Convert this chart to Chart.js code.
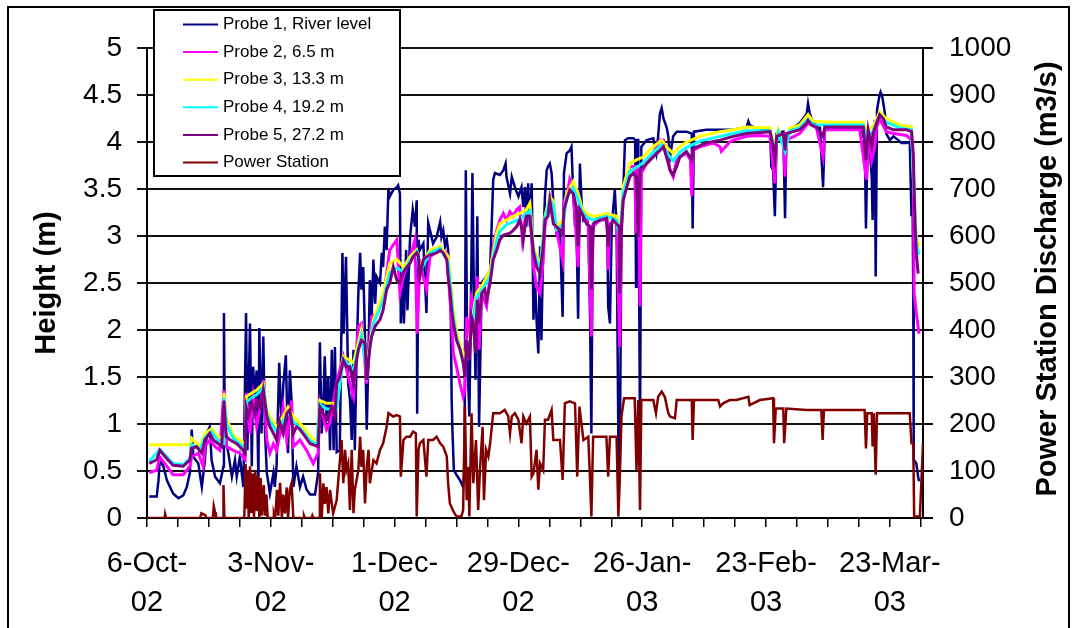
<!DOCTYPE html>
<html>
<head>
<meta charset="utf-8">
<script src="https://cdn.jsdelivr.net/npm/chart.js@4.4.1/dist/chart.umd.min.js"></script>
<style>
  html, body { margin: 0; padding: 0; background: #fff; }
  #wrap { width: 1076px; height: 628px; }
</style>
</head>
<body>
<div id="wrap"><canvas id="myChart" width="1076" height="628"></canvas></div>
<script>
// days counted from 6-Oct-02
const xLabelDays = [0, 28, 56, 84, 112, 140, 168];
const xLabels = [["6-Oct-", "02"], ["3-Nov-", "02"], ["1-Dec-", "02"], ["29-Dec-", "02"],
                 ["26-Jan-", "03"], ["23-Feb-", "03"], ["23-Mar-", "03"]];

const seriesNames = ["Probe 1, River level", "Probe 2, 6.5 m", "Probe 3, 13.3 m",
                     "Probe 4, 19.2 m", "Probe 5, 27.2 m", "Power Station"];

// Probe 1, river level (m)
const p1Days = [0.5,2.2,2.6,2.9,3.7,4.5,5.9,7.1,8.2,9.0,9.7,10.1,10.5,11.6,12.4,13.1,13.5,14.2,14.6,15.4,
  16.5,17.3,17.4,17.6,18.4,19.2,19.9,20.3,21.0,21.8,22.4,22.7,23.3,23.7,24.0,24.4,24.8,25.2,25.4,25.9,
  26.3,26.7,27.1,27.8,28.6,28.9,29.3,29.9,30.5,30.8,31.4,31.9,32.3,32.7,33.1,33.8,34.6,35.3,36.1,36.9,
  38.0,38.7,39.1,39.5,39.9,40.2,40.6,41.0,41.4,41.8,42.2,42.5,42.9,43.6,44.2,44.5,45.0,45.5,45.9,46.3,
  46.7,47.0,47.4,47.8,48.2,48.5,48.9,49.3,49.7,50.1,50.4,50.8,51.2,51.6,51.9,52.7,53.1,53.4,53.8,54.2,
  54.6,54.9,55.7,56.5,56.8,57.2,57.4,57.8,58.1,58.6,58.9,59.5,60.1,60.6,61.0,61.1,61.4,61.7,62.5,63.2,
  63.6,64.0,64.7,65.5,66.3,66.6,67.0,67.4,67.8,68.1,68.4,68.7,68.9,69.1,69.4,70.0,70.8,71.5,71.8,72.1,
  72.4,72.9,73.2,73.6,74.0,74.3,74.7,75.1,75.7,76.1,76.8,77.6,78.3,78.7,79.8,80.6,81.1,81.3,82.1,82.5,
  83.2,84.0,84.7,85.1,85.5,85.8,86.2,86.6,87.0,87.2,87.4,87.7,88.1,88.5,88.9,89.2,89.6,90.0,90.4,90.7,
  91.1,91.5,91.9,92.6,93.4,94.0,94.3,94.9,95.6,96.0,96.4,96.8,97.1,97.5,97.9,98.3,98.7,99.4,99.8,100.2,
  100.5,100.8,101.3,102.4,103.6,104.1,104.3,104.7,105.1,105.8,106.2,106.6,106.9,107.3,107.7,108.1,108.8,110.0,110.4,110.6,
  110.7,111.1,111.5,111.8,113.0,114.5,115.2,115.6,116.0,116.4,116.8,117.5,117.9,118.3,119.0,119.8,122.0,123.2,123.4,123.7,
  126.5,129.6,132.6,135.6,136.0,136.3,137.1,140.9,141.2,141.6,142.0,142.4,143.9,144.3,144.6,145.4,147.6,149.2,149.5,149.9,
  150.7,152.2,152.9,153.3,155.9,161.2,162.0,162.3,162.6,162.9,163.1,163.9,164.1,164.4,164.6,164.8,165.1,165.6,165.9,166.3,
  166.9,167.2,168.0,168.8,169.9,170.6,171.8,172.5,172.9,173.1,173.3,173.4,174.0,174.4,174.6];
const p1Height = [0.23,0.23,0.40,0.62,0.55,0.40,0.26,0.21,0.24,0.33,0.48,0.94,0.65,0.58,0.33,0.62,0.90,0.97,0.62,0.44,
  0.37,0.55,2.18,0.90,0.69,0.44,0.62,0.44,0.65,0.33,2.18,0.72,2.07,0.55,1.61,1.25,1.57,0.37,2.02,0.90,
  1.93,0.90,0.48,0.26,0.48,0.33,0.55,1.65,0.90,1.40,1.73,0.69,1.57,1.25,0.33,0.55,0.33,0.44,0.30,0.25,
  0.25,0.48,1.87,0.90,1.25,1.72,1.08,1.50,0.72,1.79,0.72,1.82,0.70,0.72,2.82,1.96,2.78,1.43,1.26,0.83,
  1.79,0.72,1.72,2.39,2.82,2.43,2.67,1.93,0.94,1.79,2.53,2.14,2.75,2.28,2.57,2.50,2.82,2.67,3.10,2.85,
  3.51,3.42,3.49,3.52,3.54,3.45,2.07,2.57,2.07,2.85,2.21,2.99,3.28,3.10,3.38,1.11,2.96,2.85,2.92,2.18,
  3.14,3.06,2.92,2.99,3.15,2.99,3.06,2.89,2.96,2.85,2.50,2.18,1.26,0.90,0.51,0.46,0.40,0.33,0.55,3.70,
  1.79,1.08,2.07,3.67,2.14,1.47,3.21,0.97,2.50,2.53,2.57,2.64,3.60,3.67,3.65,3.70,3.77,3.63,3.45,3.63,
  3.52,3.42,3.52,3.31,3.52,3.10,3.56,3.10,3.56,2.89,2.11,2.60,2.11,1.75,2.89,1.89,2.89,3.42,3.70,3.74,
  3.77,3.67,3.35,3.03,3.06,2.14,3.67,3.88,3.91,3.95,3.45,3.10,3.21,2.12,3.77,3.35,3.17,3.21,3.10,2.14,
  0.90,3.03,3.17,3.21,3.21,3.10,2.25,2.07,3.10,3.49,3.10,0.87,0.37,3.10,3.45,4.02,4.04,4.04,4.02,2.46,
  4.02,4.02,0.90,3.95,4.02,4.04,3.88,4.06,4.30,4.36,4.25,4.16,4.06,3.84,4.06,4.11,4.11,4.09,3.08,4.11,
  4.13,4.13,4.13,4.16,4.22,4.18,4.16,4.12,3.74,3.70,3.21,4.09,4.11,3.19,4.06,4.13,4.20,4.30,4.41,4.30,
  4.20,4.15,3.52,4.13,4.15,4.15,4.06,4.09,3.08,3.81,4.16,3.63,3.17,4.09,4.23,2.57,4.34,4.48,4.53,4.48,
  4.30,4.09,4.02,4.06,4.02,3.99,3.99,4.00,3.21,3.60,2.39,0.62,0.58,0.44,0.39];

// Probe 2, 6.5 m (m)
const p2Days = [0.5,2.2,2.9,4.5,5.9,8.2,9.7,10.1,11.6,12.7,13.1,14.2,15.4,16.5,17.4,18.0,19.5,21.0,22.2,22.4,
  23.3,24.0,24.8,25.6,26.3,27.1,27.8,28.6,29.3,30.1,30.8,31.6,32.7,33.1,34.6,36.1,37.6,38.7,39.1,40.6,
  41.4,42.9,44.4,45.9,46.7,47.8,48.5,49.7,50.8,51.9,53.4,54.9,56.5,57.2,58.0,59.5,60.6,61.1,61.7,63.2,
  64.0,65.5,67.0,67.8,68.5,69.3,70.0,70.8,71.5,71.9,72.3,72.9,73.4,73.9,74.3,74.7,75.1,75.7,76.8,77.6,
  78.3,79.1,79.8,80.6,81.3,82.1,82.8,83.6,84.3,84.9,85.8,86.6,87.4,88.1,88.9,89.6,90.0,90.7,91.1,91.9,
  92.6,94.0,94.3,95.3,95.6,96.4,97.5,97.9,98.7,99.4,99.8,100.5,100.9,102.4,104.1,104.3,104.7,106.2,106.9,107.3,
  107.7,108.5,109.2,110.3,110.6,111.1,111.5,111.8,113.0,114.5,116.0,116.8,117.5,118.3,119.0,119.8,120.5,122.0,122.9,123.2,
  123.5,125.0,128.0,129.6,129.9,131.8,132.6,135.6,138.6,140.9,142.0,142.4,143.9,144.3,144.6,147.6,149.5,151.4,152.9,153.3,
  161.2,162.7,163.3,163.9,164.6,165.0,165.7,167.2,168.8,171.8,172.9,173.3,173.5,174.0,174.6];
const p2Height = [0.48,0.51,0.65,0.55,0.46,0.46,0.55,0.65,0.69,0.55,0.76,0.83,0.76,0.72,1.36,0.76,0.72,0.69,0.62,1.33,
  0.90,1.29,0.97,1.18,1.47,0.83,0.69,0.79,0.72,0.90,1.18,0.83,1.25,0.76,0.83,0.72,0.58,0.69,1.22,0.94,
  1.01,1.45,1.72,1.43,1.29,2.04,2.07,1.43,2.14,2.18,2.32,2.85,2.96,2.39,2.57,2.78,2.96,1.96,2.71,2.43,
  2.78,2.83,2.85,2.82,2.35,1.75,1.61,1.43,1.29,1.36,2.14,1.93,2.35,2.28,1.96,2.57,1.79,2.39,2.25,2.57,
  2.89,3.06,3.17,3.24,3.17,3.26,3.21,3.28,3.31,2.96,3.28,3.24,2.67,2.46,2.39,2.74,3.10,3.31,3.42,3.31,
  3.06,2.74,3.35,3.52,3.60,3.49,2.67,3.38,3.21,3.17,3.10,1.93,3.10,3.17,3.17,2.64,3.13,3.17,1.82,3.03,
  3.45,3.63,3.74,3.74,3.03,3.74,2.25,3.67,3.77,3.88,4.02,4.02,3.88,3.70,3.63,3.81,3.84,3.88,3.81,3.42,
  3.91,3.95,3.99,3.95,3.90,4.00,4.02,4.06,4.07,4.06,3.56,4.02,4.04,3.63,4.02,4.09,4.20,4.15,3.84,4.13,
  4.13,3.60,4.09,3.81,3.95,4.16,4.25,4.11,4.09,4.07,4.02,3.81,2.39,2.18,1.96];

// Probe 3, 13.3 m (m)
const p3Days = [0.5,9.9,10.1,12.0,13.1,14.6,16.1,17.3,17.4,18.0,19.5,21.0,22.2,22.4,23.7,24.8,26.3,27.1,27.8,29.3,
  30.8,31.9,33.1,35.3,36.9,38.4,39.1,40.6,42.9,44.4,46.7,48.5,49.7,51.2,53.4,54.9,56.5,58.0,59.5,61.0,
  61.7,64.0,66.3,68.1,69.3,70.0,71.1,71.9,73.0,74.5,76.1,77.6,78.3,79.1,79.8,81.3,82.8,84.3,85.8,86.6,
  87.4,88.9,90.0,91.1,91.9,92.6,94.1,94.9,96.4,97.5,98.3,99.4,100.9,102.4,103.9,106.2,106.9,107.7,109.2,110.7,
  112.2,114.5,116.4,117.5,119.0,120.5,122.0,125.0,129.6,132.6,135.6,140.9,142.0,142.8,144.3,145.4,147.6,149.5,150.7,155.2,
  162.0,162.7,164.2,165.7,167.2,170.3,172.9,173.7,174.0,174.6];
const p3Height = [0.78,0.78,0.85,0.76,0.90,0.95,0.87,0.83,1.33,1.06,0.88,0.83,0.78,1.29,1.33,1.36,1.43,1.15,1.08,0.97,
  1.08,1.18,1.08,0.97,0.87,0.81,1.25,1.22,1.22,1.72,1.65,2.00,1.61,2.11,2.39,2.71,2.75,2.67,2.78,2.85,
  2.67,2.85,2.89,2.78,2.21,2.00,1.79,1.72,1.93,2.39,2.50,2.64,2.82,3.03,3.13,3.17,3.21,3.24,3.28,3.35,
  2.89,2.67,3.21,3.42,3.37,3.10,3.17,3.45,3.58,3.45,3.31,3.24,3.21,3.22,3.24,3.21,3.03,3.52,3.77,3.81,
  3.84,3.95,4.02,3.95,3.88,3.95,4.00,4.06,4.11,4.13,4.16,4.15,3.95,4.13,3.95,4.15,4.18,4.29,4.22,4.21,
  4.21,4.13,4.16,4.32,4.25,4.18,4.16,3.28,2.99,2.89];

// Probe 4, 19.2 m (m)
const p4Days = [0.5,2.9,4.5,5.9,8.2,9.7,10.1,12.0,13.1,14.6,16.1,17.3,17.4,18.0,19.5,21.0,22.2,22.4,23.7,24.8,
  26.3,27.1,27.8,29.3,30.8,31.9,33.1,35.3,36.9,38.4,39.1,40.6,42.9,44.4,46.7,48.5,49.7,51.2,53.4,54.9,
  56.5,58.0,59.5,61.0,61.7,64.0,66.3,68.1,69.3,70.0,71.1,71.9,73.0,74.5,76.1,77.6,78.3,79.1,79.8,81.3,
  82.8,84.3,85.8,86.6,87.4,88.9,90.0,91.1,91.9,92.6,94.1,94.9,96.4,97.5,98.3,99.4,100.9,102.4,103.9,106.2,
  106.9,107.7,109.2,110.7,112.2,114.5,116.4,117.5,119.0,120.5,122.0,125.0,129.6,132.6,135.6,140.9,142.0,142.8,144.3,145.4,
  147.6,149.5,150.7,155.2,162.0,162.7,164.2,165.7,167.2,170.3,172.9,173.7,174.0,174.6];
const p4Height = [0.60,0.73,0.65,0.58,0.57,0.63,0.78,0.73,0.86,0.92,0.82,0.79,1.28,1.00,0.85,0.79,0.73,1.23,1.28,1.31,
  1.39,1.11,1.03,0.92,1.03,1.13,1.03,0.92,0.82,0.78,1.21,1.16,1.16,1.69,1.58,1.94,1.55,2.07,2.31,2.61,
  2.66,2.62,2.74,2.83,2.62,2.82,2.87,2.72,2.13,1.93,1.74,1.63,1.88,2.34,2.45,2.57,2.77,2.95,3.05,3.12,
  3.15,3.18,3.24,3.27,2.85,2.63,3.18,3.39,3.33,3.07,3.12,3.41,3.51,3.39,3.27,3.20,3.17,3.19,3.21,3.17,
  2.97,3.46,3.69,3.73,3.78,3.89,3.97,3.89,3.80,3.89,3.94,4.01,4.06,4.09,4.12,4.12,3.89,4.10,3.90,4.12,
  4.15,4.24,4.18,4.18,4.18,4.04,4.12,4.29,4.21,4.15,4.13,3.20,2.93,2.80];

// Probe 5, 27.2 m (m)
const p5Days = [0.5,2.2,2.9,4.5,5.9,8.2,9.7,10.1,11.2,12.4,13.1,14.2,15.0,16.1,16.9,17.4,17.9,18.8,20.3,21.4,
  22.2,22.4,22.9,23.7,24.4,24.8,25.6,26.3,27.1,27.8,28.6,29.3,29.9,30.8,31.6,32.3,33.1,33.8,34.6,35.7,
  36.9,38.7,39.1,39.9,40.6,41.8,42.5,42.9,43.6,44.4,45.1,45.9,46.7,47.0,47.8,48.5,49.3,49.7,50.4,50.8,
  51.6,52.7,53.4,54.2,54.9,55.7,56.5,57.2,57.6,58.3,59.5,60.2,61.0,61.4,61.7,62.5,63.2,64.0,65.5,66.3,
  67.0,67.8,68.1,68.5,68.9,69.3,70.0,70.8,71.5,71.9,72.3,72.9,73.4,73.8,74.3,74.7,75.1,75.7,76.4,76.8,
  77.6,78.3,79.1,79.8,80.6,82.1,82.8,83.6,84.3,84.9,85.1,85.8,86.6,87.4,88.1,88.9,89.6,90.0,90.7,91.1,
  91.9,92.6,93.4,94.0,94.3,94.9,95.6,96.4,97.1,97.5,97.9,98.7,99.4,100.2,100.5,100.9,102.4,103.9,104.3,104.7,
  105.4,106.8,106.9,107.3,107.7,108.5,109.2,110.0,110.7,111.1,111.5,113.0,114.5,116.0,116.8,117.5,118.3,119.0,119.8,120.5,
  122.0,123.2,123.5,126.5,129.6,132.6,135.6,140.9,141.6,142.0,142.4,143.9,144.3,144.6,147.6,149.2,149.5,150.3,151.4,152.9,
  153.3,162.0,162.6,163.1,163.9,164.2,165.0,165.7,166.5,167.2,168.8,171.8,172.9,173.3,173.7,174.0,174.4];
const p5Height = [0.58,0.62,0.72,0.63,0.56,0.55,0.62,0.74,0.76,0.69,0.83,0.90,0.83,0.79,0.76,1.25,0.87,0.83,0.79,0.74,
  0.69,1.18,1.08,1.22,1.11,1.25,1.18,1.36,1.08,0.97,0.90,0.83,1.04,0.90,1.11,1.15,0.90,0.97,0.94,0.87,
  0.79,0.76,1.18,1.11,1.04,1.18,1.08,1.43,1.50,1.68,1.61,1.61,1.43,1.57,1.79,1.89,1.86,1.47,1.82,1.93,
  2.04,2.11,2.21,2.43,2.50,2.67,2.53,2.50,2.57,2.64,2.71,2.78,2.82,2.78,2.57,2.75,2.78,2.80,2.82,2.85,
  2.82,2.75,2.57,2.43,2.21,2.07,1.89,1.79,1.65,1.50,1.89,1.68,2.14,2.07,1.75,2.32,2.07,2.39,2.43,2.32,
  2.50,2.75,2.85,2.96,3.01,3.03,3.06,3.10,3.17,3.06,2.96,3.21,3.21,2.83,2.67,2.60,2.89,3.17,3.21,3.38,
  3.13,3.10,3.06,3.03,3.28,3.38,3.49,3.45,3.31,2.89,3.28,3.21,3.13,3.10,2.43,3.13,3.17,3.19,2.89,3.10,
  3.17,3.10,2.39,3.10,3.38,3.52,3.63,3.67,3.63,2.99,3.70,3.77,3.84,3.91,3.95,3.84,3.70,3.65,3.74,3.84,
  3.90,3.81,3.93,3.99,4.02,4.06,4.09,4.11,3.95,3.81,4.06,4.09,3.91,4.09,4.13,4.20,4.23,4.18,4.16,4.06,
  4.16,4.16,3.81,4.13,3.95,4.09,4.20,4.29,4.25,4.16,4.13,4.13,4.11,3.88,3.10,2.81,2.60];

// Power Station discharge (m3/s), right axis
const psDays = [0.5,4.0,4.1,4.3,12.0,12.3,13.2,13.4,14.9,15.1,15.4,15.6,17.2,17.3,17.5,22.0,22.3,22.5,22.8,23.0,
  23.3,23.6,23.9,24.2,24.5,24.8,25.1,25.4,25.7,26.0,26.4,26.7,27.0,27.3,28.5,28.7,29.0,29.4,29.7,30.1,
  30.5,30.8,31.2,31.6,31.9,32.3,32.7,33.1,35.3,35.5,35.7,37.2,37.4,37.6,38.9,39.1,39.5,39.9,40.2,40.6,
  41.0,41.4,41.8,42.1,42.9,44.0,44.4,44.8,45.1,45.5,45.9,46.3,46.7,47.0,47.4,47.8,48.2,48.5,48.9,49.3,
  49.7,50.1,50.4,51.2,51.9,52.7,53.4,54.2,54.6,55.7,56.5,57.2,57.4,58.0,58.7,59.5,60.2,60.8,61.0,61.4,
  61.7,62.5,63.2,63.6,64.7,65.5,66.3,67.0,67.8,68.1,68.5,69.3,70.0,71.1,71.5,71.9,72.3,72.7,72.9,73.4,
  73.8,74.4,74.9,75.3,75.9,76.2,76.7,77.2,77.6,78.3,79.8,80.9,81.7,82.1,82.5,83.2,84.0,84.7,85.1,85.8,
  86.6,87.0,87.4,88.1,88.5,88.9,89.6,90.0,90.7,91.5,91.9,93.4,94.0,94.5,95.6,96.8,97.3,97.8,98.7,99.8,
  100.2,100.5,100.9,103.9,104.3,104.7,106.2,106.6,106.9,107.3,107.9,110.3,110.7,111.1,111.5,111.8,114.5,115.1,115.6,116.4,
  117.1,117.9,118.3,119.4,119.8,123.2,123.4,123.7,129.2,129.6,130.3,131.8,133.3,136.0,136.3,138.6,141.6,141.8,142.2,143.9,
  144.1,144.6,149.2,152.5,152.8,153.1,162.3,162.6,162.9,163.9,164.1,164.4,164.8,165.1,172.5,172.9,173.3,173.5,174.8,175.5];
const psDischarge = [0,0,8,0,0,10,6,0,0,25,12,0,0,70,0,0,115,20,100,0,
  110,10,95,0,100,15,90,0,85,5,70,5,50,0,0,10,0,60,5,75,
  0,50,10,65,0,60,74,0,0,5,0,0,5,0,0,95,0,74,30,66,
  10,60,30,10,38,166,74,145,102,116,17,145,10,60,81,102,173,109,145,31,
  109,145,74,123,116,145,159,194,223,216,219,216,88,166,173,173,184,180,3,145,
  159,166,88,166,166,173,159,152,131,74,31,14,3,3,17,237,38,109,3,223,
  74,166,17,102,194,38,145,131,159,223,223,230,216,180,216,223,209,159,216,201,
  216,88,95,145,60,116,102,209,209,230,166,166,81,244,248,244,88,237,166,173,
  81,3,173,173,88,173,173,3,74,216,255,255,102,251,17,251,251,223,258,269,
  258,223,216,212,251,251,166,251,251,237,244,251,251,258,240,251,255,159,233,233,
  159,233,230,230,166,230,230,148,223,223,152,223,92,223,223,159,159,3,3,159];

const navy = "#000080";
const magenta = "#FF00FF";
const yellow = "#FFFF00";
const cyan = "#00FFFF";
const purple = "#800080";
const darkRed = "#800000";

const fontFamily = '"Liberation Sans", Arial, Helvetica, sans-serif';
Chart.defaults.font.family = fontFamily;
Chart.defaults.color = "#000";

function toPoints(days, vals) {
    return days.map((d, i) => ({ x: d, y: vals[i] }));
}

function lineSet(label, days, vals, color, order, axis, width) {
    return {
        label: label,
        data: toPoints(days, vals),
        borderColor: color,
        backgroundColor: color,
        borderWidth: width,
        pointRadius: 0,
        tension: 0,
        order: order,
        yAxisID: axis,
    };
}

// legend box, axis titles, outer frame
const extras = {
    id: "extras",
    afterDraw(chart) {
        const ctx = chart.ctx;
        const area = chart.chartArea;
        ctx.save();

        // outer frame
        ctx.strokeStyle = "#000";
        ctx.lineWidth = 2;
        ctx.beginPath();
        ctx.moveTo(8, 640);
        ctx.lineTo(8, 7);
        ctx.lineTo(1069, 7);
        ctx.lineTo(1069, 640);
        ctx.stroke();

        // axis titles
        ctx.fillStyle = "#000";
        ctx.font = "bold 29px " + fontFamily;
        ctx.textAlign = "center";
        ctx.textBaseline = "middle";
        const midY = (area.top + area.bottom) / 2;
        ctx.save();
        ctx.translate(47, midY);
        ctx.rotate(-Math.PI / 2);
        ctx.fillText("Height (m)", 0, 0);
        ctx.restore();
        ctx.save();
        ctx.translate(1048, midY - 4);
        ctx.rotate(-Math.PI / 2);
        ctx.fillText("Power Station Discharge (m3/s)", 0, 0);
        ctx.restore();

        // legend
        const bx = 154, by = 10, bw = 246, bh = 166;
        ctx.fillStyle = "#fff";
        ctx.fillRect(bx, by, bw, bh);
        ctx.strokeStyle = "#000";
        ctx.lineWidth = 2;
        ctx.strokeRect(bx, by, bw, bh);
        ctx.font = "17px " + fontFamily;
        ctx.textAlign = "left";
        ctx.textBaseline = "middle";
        chart.data.datasets.forEach((ds, i) => {
            const y = by + 14.5 + i * 27.6;
            ctx.strokeStyle = ds.borderColor;
            ctx.lineWidth = 2;
            ctx.beginPath();
            ctx.moveTo(bx + 29, y);
            ctx.lineTo(bx + 64, y);
            ctx.stroke();
            ctx.fillStyle = "#000";
            ctx.fillText(ds.label, bx + 69, y);
        });
        ctx.restore();
    },
};

const ctx = document.getElementById("myChart");

new Chart(ctx, {
    type: "line",
    data: {
        datasets: [
            lineSet(seriesNames[0], p1Days, p1Height, navy, 6, "y", 2.5),
            lineSet(seriesNames[1], p2Days, p2Height, magenta, 5, "y", 3),
            lineSet(seriesNames[2], p3Days, p3Height, yellow, 4, "y", 3),
            lineSet(seriesNames[3], p4Days, p4Height, cyan, 3, "y", 3),
            lineSet(seriesNames[4], p5Days, p5Height, purple, 2, "y", 3),
            lineSet(seriesNames[5], psDays, psDischarge, darkRed, 1, "y2", 2.5),
        ],
    },
    options: {
        responsive: false,
        animation: false,
        devicePixelRatio: 1,
        layout: {
            padding: { left: 20, right: 10, top: 48, bottom: 0 },
        },
        scales: {
            x: {
                type: "linear",
                position: "bottom",
                min: 0,
                max: 175.5,
                afterFit(scale) { scale.height = 110; },
                ticks: {
                    stepSize: 7,
                    autoSkip: false,
                    maxRotation: 0,
                    includeBounds: false,
                    padding: 17,
                    font: { size: 29, lineHeight: 1.36 },
                    callback: function (value) {
                        const i = xLabelDays.indexOf(value);
                        return i >= 0 ? xLabels[i] : "";
                    },
                },
                grid: { drawOnChartArea: false, color: "#000", lineWidth: 1.5, tickLength: 9 },
                border: { color: "#000", width: 2 },
            },
            y: {
                position: "left",
                min: 0,
                max: 5,
                afterFit(scale) { scale.width = 127; },
                ticks: {
                    stepSize: 0.5,
                    padding: 15,
                    font: { size: 28 },
                    callback: (value) => String(value),
                },
                grid: { color: "#111", lineWidth: 2, tickLength: 10 },
                border: { color: "#000", width: 2 },
            },
            y2: {
                position: "right",
                min: 0,
                max: 1000,
                afterFit(scale) { scale.width = 143; },
                ticks: {
                    stepSize: 100,
                    padding: 16,
                    font: { size: 28 },
                    callback: (value) => String(value),
                },
                grid: { drawOnChartArea: false, color: "#000", lineWidth: 2, tickLength: 10 },
                border: { color: "#000", width: 2 },
            },
        },
        plugins: {
            legend: { display: false },
            tooltip: { enabled: false },
        },
    },
    plugins: [extras],
});
</script>
</body>
</html>
